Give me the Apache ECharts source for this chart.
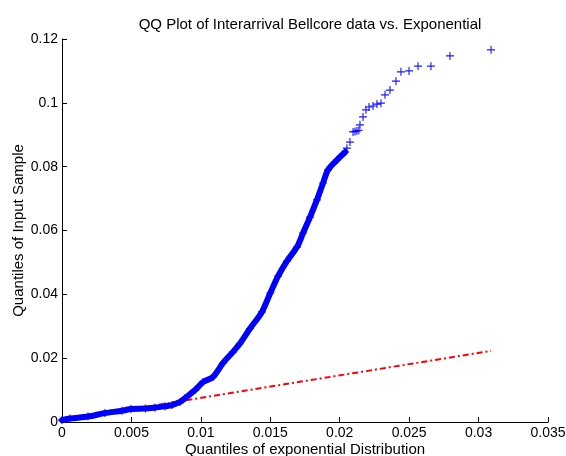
<!DOCTYPE html>
<html>
<head>
<meta charset="utf-8">
<script src="https://cdn.jsdelivr.net/npm/echarts@6/dist/echarts.min.js"></script>
<style>
  html, body { margin: 0; padding: 0; background: #fff; }
  #chartBox { width: 566px; height: 456px; }
</style>
</head>
<body>
<div id="chartBox"></div>
<script>
// dense part of the QQ curve
var denseExp = [0, 0.00058, 0.00187, 0.0031, 0.00432, 0.00497, 0.0060, 0.0067, 0.00742, 0.00792,
  0.0085, 0.00886, 0.00958, 0.01015, 0.01087, 0.0116, 0.0123, 0.0128, 0.01354, 0.0144,
  0.0150, 0.01556, 0.0162, 0.01692, 0.01736, 0.01786, 0.01836, 0.0188, 0.01916, 0.0198, 0.0204];
var denseSample = [0.0006, 0.0011, 0.0017, 0.0028, 0.0035, 0.0041, 0.0042, 0.0045, 0.0049, 0.0053,
  0.0063, 0.0075, 0.0100, 0.0125, 0.0141, 0.0185, 0.0219, 0.0245, 0.0293, 0.0345,
  0.0404, 0.0457, 0.0504, 0.0548, 0.0592, 0.0642, 0.0696, 0.0749, 0.0790, 0.0821, 0.0846];

// sparse upper tail, single '+' markers
var tailExp = [0.02052, 0.02074, 0.02096, 0.0211, 0.02124, 0.02138, 0.02146, 0.02168, 0.02189, 0.02211,
  0.0224, 0.02268, 0.02297, 0.02326, 0.02362, 0.02405, 0.02441, 0.02499, 0.02564, 0.02657,
  0.02794, 0.0309];
var tailSample = [0.0858, 0.0877, 0.0909, 0.0910, 0.0912, 0.0914, 0.0931, 0.0956, 0.0978, 0.0987,
  0.0990, 0.0996, 0.0999, 0.1025, 0.1040, 0.1068, 0.1097, 0.1100, 0.1115, 0.1115,
  0.1147, 0.1166];

// fitted reference line (dash-dot)
var refExp = [0, 0.0309];
var refSample = [0.00049, 0.0223];

var xTicks = ["0", "0.005", "0.01", "0.015", "0.02", "0.025", "0.03", "0.035"];
var yTicks = ["0", "0.02", "0.04", "0.06", "0.08", "0.1", "0.12"];

function zip(a, b) {
  var out = [];
  for (var i = 0; i < a.length; i++) out.push([a[i], b[i]]);
  return out;
}

var plusSymbol = "path://M0,4.3H10V5.7H0Z M4.3,0H5.7V10H4.3Z";
var font = "'Liberation Sans', Arial, sans-serif";

var chartBox = echarts.init(document.getElementById("chartBox"));
chartBox.setOption({
  backgroundColor: "#FFFFFF",
  animation: false,
  title: {
    text: "QQ Plot of Interarrival Bellcore data vs. Exponential",
    left: 305,
    top: 12,
    textAlign: "center",
    textStyle: { fontFamily: font, fontSize: 15, fontWeight: "normal", color: "#000" }
  },
  grid: { left: 62, right: 18, top: 39, bottom: 34, containLabel: false, outerBoundsMode: "none" },
  xAxis: {
    type: "value",
    min: 0,
    max: 0.035,
    interval: 0.005,
    name: "Quantiles of exponential Distribution",
    nameLocation: "middle",
    nameGap: 20,
    nameMoveOverlap: false,
    nameTextStyle: { fontFamily: font, fontSize: 15, color: "#000" },
    splitLine: { show: false },
    axisLine: { lineStyle: { color: "#000", width: 1 } },
    axisTick: { inside: true, length: 5, lineStyle: { color: "#000" } },
    axisLabel: {
      fontFamily: font, fontSize: 14, color: "#000", margin: 4,
      formatter: function (v) { return xTicks[Math.round(v / 0.005)]; }
    }
  },
  yAxis: {
    type: "value",
    min: 0,
    max: 0.12,
    interval: 0.02,
    name: "Quantiles of Input Sample",
    nameLocation: "middle",
    nameGap: 36,
    nameMoveOverlap: false,
    nameTextStyle: { fontFamily: font, fontSize: 15, color: "#000" },
    splitLine: { show: false },
    axisLine: { lineStyle: { color: "#000", width: 1 } },
    axisTick: { inside: true, length: 5, lineStyle: { color: "#000" } },
    axisLabel: {
      fontFamily: font, fontSize: 14, color: "#000", margin: 4,
      formatter: function (v) { return yTicks[Math.round(v / 0.02)]; }
    }
  },
  series: [
    {
      type: "line",
      data: zip(refExp, refSample),
      symbol: "none",
      z: 1,
      lineStyle: { color: "#ff0000", width: 2, type: [6, 3, 2, 3] }
    },
    {
      type: "line",
      data: zip(denseExp, denseSample),
      symbol: "none",
      smooth: 0.3,
      z: 2,
      lineStyle: { color: "#0000ff", width: 6, cap: "round", join: "round" }
    },
    {
      type: "scatter",
      data: zip(denseExp, denseSample).concat(zip(tailExp, tailSample)),
      symbol: plusSymbol,
      symbolSize: 8,
      z: 3,
      itemStyle: { color: "#0000ff", opacity: 0.9 }
    }
  ]
});
</script>
</body>
</html>
